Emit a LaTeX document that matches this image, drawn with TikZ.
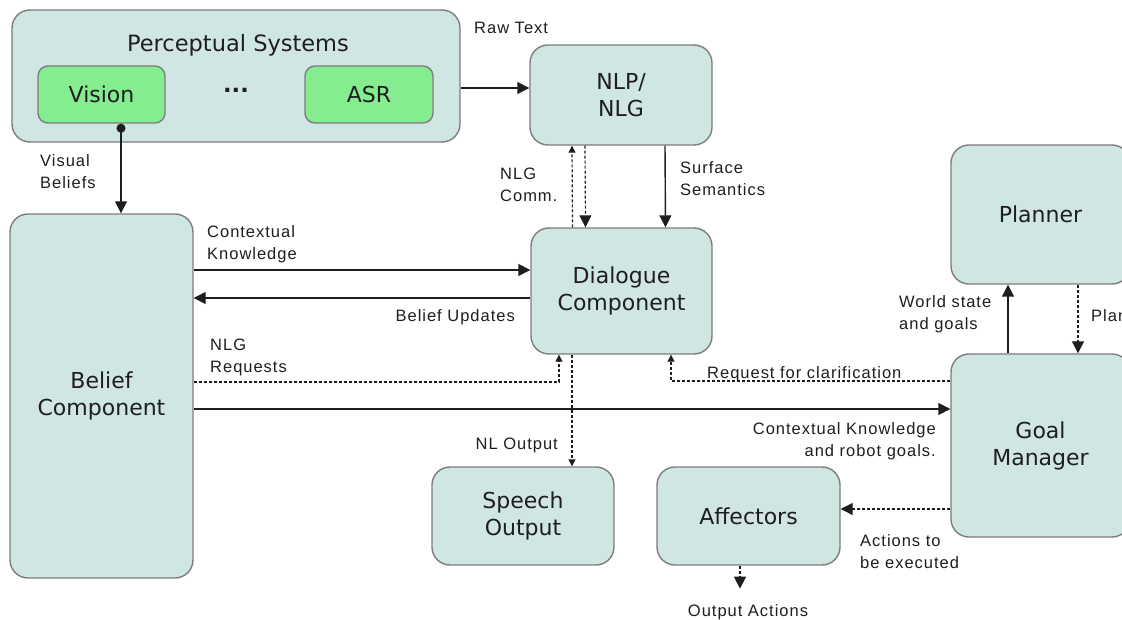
\documentclass[tikz,border=0pt]{standalone}
\usepackage{fontspec}
\setmainfont{DejaVu Sans}
\newfontfamily\lblfont[LetterSpace=6]{Liberation Sans}
\usetikzlibrary{arrows.meta,positioning}
\definecolor{boxfill}{RGB}{208,230,227}
\definecolor{boxline}{RGB}{125,125,125}
\definecolor{sensfill}{RGB}{134,236,144}
\definecolor{inkgray}{RGB}{30,30,30}
\tikzset{%
	compbox/.style={rectangle, rounded corners=18pt, draw=boxline, line width=1.4pt, fill=boxfill, align=center, font=\fontsize{22}{27}\selectfont, text=inkgray},
	sensbox/.style={compbox, rounded corners=10pt, fill=sensfill},
	boxtxt/.style={inner sep=0pt, font=\fontsize{22.5}{27}\selectfont, text=inkgray},
	lbl/.style={inner sep=0pt, font=\lblfont\fontsize{16.5}{22}\selectfont, text=inkgray},
	solidarr/.style={draw=inkgray, line width=1.4pt, -{Triangle[length=12pt,width=12pt]}},
	dotarr/.style={draw=inkgray, line width=1.2pt, dash pattern=on 3pt off 2pt, -{Triangle[length=12pt,width=12pt]}},
	dotsmall/.style={dotarr, -{Triangle[length=7pt,width=7pt]}}}
\begin{document}
\begin{tikzpicture}[x=1pt, y=-1pt]
		\useasboundingbox (0,0) rectangle (1122,620);
		% components
		\node[compbox, minimum width=448pt, minimum height=132pt] (percep) at (236,76) {};
		\node[boxtxt] (perceptitle) at (238,45) {Perceptual Systems};
		\node[sensbox, minimum width=127pt, minimum height=57pt] (vision) at (101.5,94.5) {Vision};
		\node[sensbox, minimum width=128pt, minimum height=57pt] (asr) at (369,94.5) {ASR};
		\node[boxtxt, anchor=base, font=\bfseries\fontsize{22.5}{27}\selectfont] (sensdots) at (236,93) {...};
		\node[compbox, minimum width=182pt, minimum height=100pt] (nlp) at (621,95) {NLP/\\NLG};
		\node[compbox, minimum width=181pt, minimum height=126pt] (dialog) at (621.5,291) {Dialogue\\Component};
		\node[compbox, minimum width=179pt, minimum height=139pt] (planner) at (1040.5,214.5) {Planner};
		\node[compbox, minimum width=179pt, minimum height=183pt] (goal) at (1040.5,445.5) {Goal\\Manager};
		\node[compbox, minimum width=183pt, minimum height=364pt] (belief) at (101.5,396) {Belief\\Component};
		\node[compbox, minimum width=182pt, minimum height=98pt] (speech) at (523,516) {Speech\\Output};
		\node[compbox, minimum width=183pt, minimum height=98pt] (affect) at (748.5,516) {Affectors};
		
		% helper points
		\coordinate (ck) at ([yshift=21pt]dialog.west);
		\coordinate (bu) at ([yshift=-7pt]dialog.west);
		\coordinate (kg) at ([yshift=-13pt]belief.east);
		\coordinate (ae) at ([yshift=-63.5pt]goal.west);
		\coordinate (nlo) at ([xshift=-49.5pt]dialog.south);
		\coordinate (oa) at ([xshift=-8.5pt, yshift=-23pt]affect.south);
		
		% connectors
		\draw[solidarr, {Circle[length=9pt]}-{Triangle[length=12pt,width=12pt]}] ([xshift=19.5pt]vision.south) -- ([xshift=19.5pt]belief.north);
		\draw[solidarr] ([yshift=-12pt]percep.east) -- ([yshift=7pt]nlp.west);
		\draw[dotsmall] ([xshift=-49pt]dialog.north) -- ([xshift=-49pt]nlp.south);
		\draw[dotarr] ([xshift=-36pt]nlp.south) -- ([xshift=-36pt]dialog.north);
		\draw[solidarr] ([xshift=44pt]nlp.south) -- ([xshift=44pt]dialog.north);
		\draw[solidarr] (belief.east |- ck) -- (ck);
		\draw[solidarr] (bu) -- (belief.east |- bu);
		\draw[dotsmall] ([yshift=14pt]belief.east) -| ([xshift=-62.5pt]dialog.south);
		\draw[dotsmall] ([yshift=64.5pt]goal.west) -| ([xshift=49.5pt]dialog.south);
		\draw[solidarr] (kg) -- (kg -| goal.west);
		\draw[dotsmall] (nlo) -- (nlo |- speech.north);
		\draw[solidarr] ([xshift=-32.5pt]goal.north) -- ([xshift=-32.5pt]planner.south);
		\draw[dotarr] ([xshift=37.5pt]planner.south) -- ([xshift=37.5pt]goal.north);
		\draw[dotarr] (ae) -- (ae -| affect.east);
		\draw[dotarr] ([xshift=-8.5pt]affect.south) -- (oa);
		
		% connector labels
		\node[lbl, anchor=base west] (rawlbl) at (474,34) {Raw Text};
		\node[lbl, anchor=base west, align=left] (vislbl) at (40,189) {Visual\\Beliefs};
		\node[lbl, anchor=base west, align=left] (commlbl) at (500,202) {NLG\\Comm.};
		\node[lbl, anchor=base west, align=left] (semlbl) at (680,196) {Surface\\Semantics};
		\node[lbl, anchor=base west, align=left] (ctxlbl) at (207,260) {Contextual\\Knowledge};
		\node[lbl, anchor=base east] (updlbl) at (515,322) {Belief Updates};
		\node[lbl, anchor=base west, align=left] (reqlbl) at (210,372) {NLG\\Requests};
		\node[lbl, anchor=base west] (clarlbl) at (707,378) {Request for clarification};
		\node[lbl, anchor=base east, align=right] (goalslbl) at (936,456) {Contextual Knowledge\\and robot goals.};
		\node[lbl, anchor=base east] (nlolbl) at (558,449) {NL Output};
		\node[lbl, anchor=base west, align=left] (worldlbl) at (899,330) {World state\\and goals};
		\node[lbl, anchor=base west] (planlbl) at (1091,322) {Plans};
		\node[lbl, anchor=base west, align=left] (actlbl) at (860,568) {Actions to\\be executed};
		\node[lbl, anchor=base] (outlbl) at (748,616) {Output Actions};
	\end{tikzpicture}
\end{document}
